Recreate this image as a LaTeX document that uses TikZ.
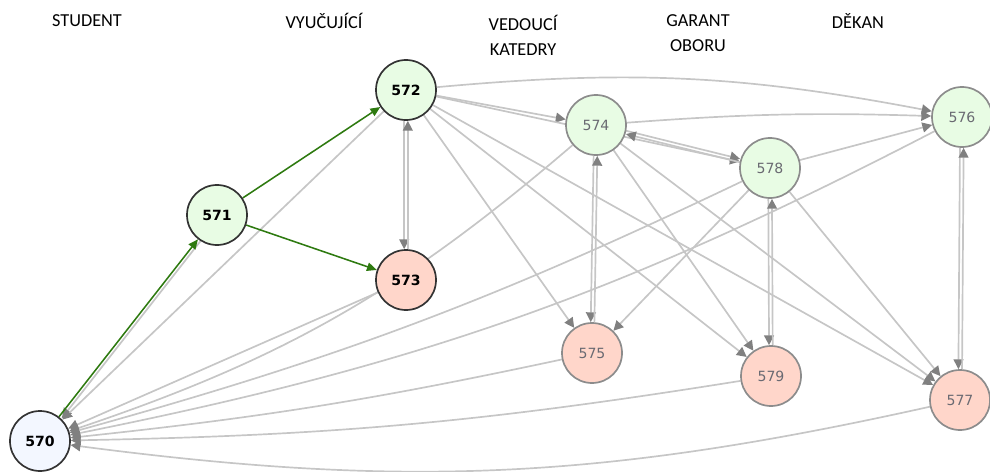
\documentclass[tikz,border=0pt]{standalone}
\usepackage{fontspec}
\setmainfont{Carlito}
\newfontfamily\numfont{DejaVu Sans}
\usetikzlibrary{arrows.meta,backgrounds}

\definecolor{greenfill}{HTML}{E8FCE4}
\definecolor{redfill}{HTML}{FFD6CA}
\definecolor{bluefill}{HTML}{F3F7FF}
\definecolor{edgegray}{HTML}{C6C6C6}
\definecolor{tipgray}{HTML}{808080}
\definecolor{nodegray}{HTML}{8C8C8C}
\definecolor{labelgray}{HTML}{6A6A72}
\definecolor{flowgreen}{HTML}{2E7A10}

\begin{document}
\begin{tikzpicture}[x=0.025cm,y=-0.025cm,
  head/.style={font=\fontsize{13}{17.7}\selectfont,align=center},
  vertex/.style={circle,draw=black!80,line width=1.2pt,minimum size=1.5cm,inner sep=0pt,
    font=\numfont\bfseries\fontsize{10}{12}\selectfont},
  faint/.style={vertex,draw=nodegray,text=labelgray,font=\numfont\fontsize{10}{12}\selectfont},
  link/.style={draw=edgegray,line width=1.2pt,-{Triangle[length=7pt,width=7pt,color=tipgray]}},
  flow/.style={draw=flowgreen,line width=1.1pt,-{Triangle[length=7pt,width=6pt]}}]
  \useasboundingbox (0,0) rectangle (990,472);

  % role headers
  \node[head] (hstudent) at (87,21) {STUDENT};
  \node[head] (hteacher) at (324,21) {VYUČUJÍCÍ};
  \node[head,anchor=north] (hhead) at (523,10) {VEDOUCÍ\\KATEDRY};
  \node[head,anchor=north] (hgarant) at (698,10) {GARANT\\OBORU};
  \node[head] (hdean) at (858,21) {DĚKAN};

  % states
  \node[vertex,fill=bluefill] (n570) at (40,441) {570};
  \node[vertex,fill=greenfill] (n571) at (217,215) {571};
  \node[vertex,fill=greenfill] (n572) at (406,90) {572};
  \node[vertex,fill=redfill] (n573) at (406,280) {573};
  \node[faint,fill=greenfill] (n574) at (596,125) {574};
  \node[faint,fill=redfill] (n575) at (592,353) {575};
  \node[faint,fill=greenfill] (n576) at (962,117) {576};
  \node[faint,fill=redfill] (n577) at (960,400) {577};
  \node[faint,fill=greenfill] (n578) at (770,168) {578};
  \node[faint,fill=redfill] (n579) at (771,376) {579};

  \begin{pgfonlayer}{background}
    % returns to the student
    \draw[link,transform canvas={xshift=2pt,yshift=-1pt}] (n571) -- (n570);
    \draw[link] (n572) -- (n570);
    \draw[link] (n573) -- (n570);
    \draw[link] (n574) to[bend left=11] (n570);
    \draw[link] (n575) to[bend left=3] (n570);
    \draw[link] (n576) to[bend left=8] (n570);
    \draw[link] (n577) to[bend left=10] (n570);
    \draw[link] (n578) to[bend left=5] (n570);
    \draw[link] (n579) to[bend left=4] (n570);

    % from 572
    \draw[link,transform canvas={xshift=-1.3pt}] (n572) -- (n573);
    \draw[link,transform canvas={xshift=1.3pt}] (n573) -- (n572);
    \draw[link] (n572) -- (n574);
    \draw[link] (n572) -- (n578);
    \draw[link] (n572) -- (n575);
    \draw[link] (n572) -- (n579);
    \draw[link] (n572) -- (n577);
    \draw[link] (n572) to[bend left=8] (n576);

    % from 574
    \draw[link,transform canvas={xshift=-1.3pt}] (n574) -- (n575);
    \draw[link,transform canvas={xshift=1.3pt}] (n575) -- (n574);
    \draw[link,transform canvas={yshift=1.2pt}] (n574) -- (n578);
    \draw[link,transform canvas={yshift=-1.2pt}] (n578) -- (n574);
    \draw[link] (n574) to[bend left=3] (n576);
    \draw[link] (n574) -- (n579);
    \draw[link] (n574) -- (n577);

    % from 578
    \draw[link] (n578) -- (n576);
    \draw[link] (n578) -- (n575);
    \draw[link] (n578) -- (n577);
    \draw[link,transform canvas={xshift=-1.3pt}] (n578) -- (n579);
    \draw[link,transform canvas={xshift=1.3pt}] (n579) -- (n578);

    % 576 and 577
    \draw[link,transform canvas={xshift=-1.3pt}] (n576) -- (n577);
    \draw[link,transform canvas={xshift=1.3pt}] (n577) -- (n576);

    % main path
    \draw[flow] (n570) -- (n571);
    \draw[flow] (n571) -- (n572);
    \draw[flow] (n571) -- (n573);
  \end{pgfonlayer}
\end{tikzpicture}
\end{document}
